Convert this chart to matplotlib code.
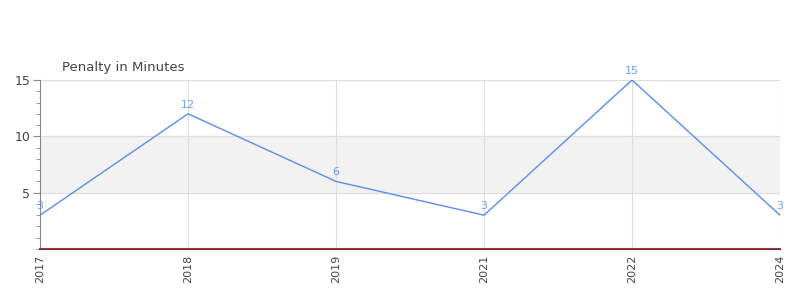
import matplotlib
matplotlib.use("Agg")
import matplotlib.pyplot as plt
from matplotlib.ticker import MultipleLocator

years = ["2017", "2018", "2019", "2021", "2022", "2024"]
penalty = [3, 12, 6, 3, 15, 3]
y_ticks = [5, 10, 15]

LINE = "#5b8def"
TEXT = "#444444"

fig = plt.figure(figsize=(8, 3), dpi=100)
ax = fig.add_axes([0.05, 0.17, 0.925, 0.5633])

xs = list(range(len(years)))
ax.axhspan(5, 10, color="#f2f2f2", zorder=0)
ax.plot(xs, penalty, color=LINE, linewidth=1, zorder=3)
for x, v in zip(xs, penalty):
    ax.annotate(str(v), (x, v), xytext=(0, 3), textcoords="offset points",
                ha="center", va="bottom", fontsize=8, color=LINE, alpha=0.85)

ax.set_xlim(0, len(years) - 1)
ax.set_ylim(0, 15)
ax.set_xticks(xs)
ax.set_xticklabels(years, rotation=90, fontsize=8, color=TEXT)
ax.set_yticks(y_ticks)
ax.set_yticklabels([str(t) for t in y_ticks], fontsize=9, color=TEXT)
ax.yaxis.set_minor_locator(MultipleLocator(1))
ax.tick_params(axis="y", which="major", length=5, color="#888888", pad=2)
ax.tick_params(axis="y", which="minor", length=3, color="#888888")
ax.tick_params(axis="x", length=0, pad=4)

ax.grid(True, color="#dddddd", linewidth=0.8, zorder=1)
ax.set_axisbelow(True)
for side in ("top", "right"):
    ax.spines[side].set_visible(False)
ax.spines["left"].set_color("#888888")
ax.spines["bottom"].set_color("#555555")
ax.spines["bottom"].set_linewidth(1.5)
ax.axhline(0, color="#cc0000", linewidth=0.6, zorder=4, clip_on=False)

fig.text(62 / 800, 1 - 67 / 300, "Penalty in Minutes", fontsize=9.5,
         color=TEXT, va="center", ha="left")

fig.savefig("out.png", dpi=100)
